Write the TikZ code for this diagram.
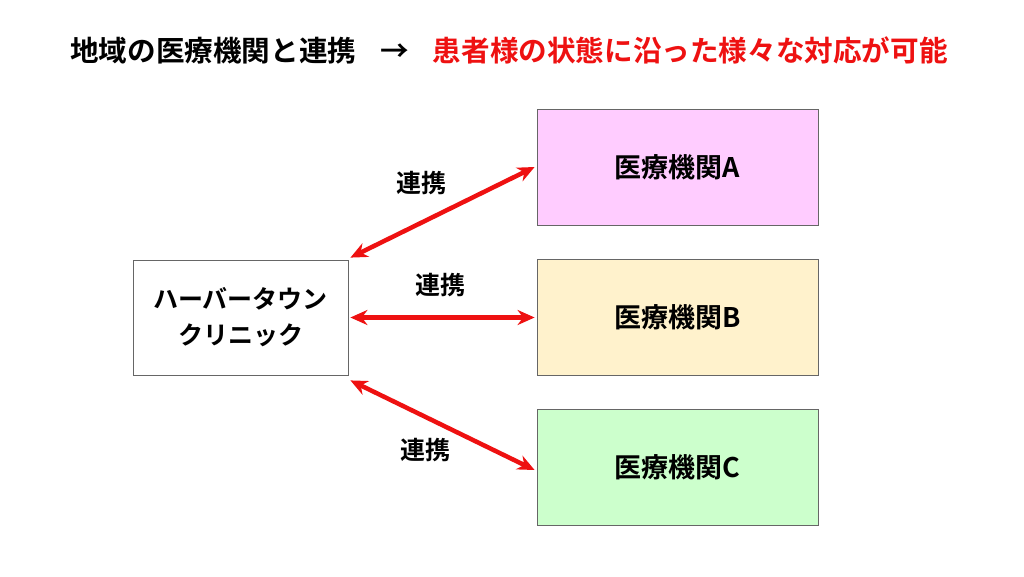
\documentclass[tikz,border=0pt]{standalone}
\usepackage{fontspec}
\setmainfont{Noto Sans CJK JP}[BoldFont={Noto Sans CJK JP Bold}]
\usetikzlibrary{arrows.meta}
\definecolor{linkred}{HTML}{EE1111}
\begin{document}
\begin{tikzpicture}[x=1pt, y=-1pt]

\tikzset{
  inst/.style={draw=black!60, line width=0.8pt, minimum width=281pt, minimum height=116pt, font=\fontsize{27}{32}\selectfont\bfseries},
  link/.style={draw=linkred, line width=4.5pt, {Stealth[length=17pt,width=15pt]}-{Stealth[length=17pt,width=15pt]}},
  lbl/.style={font=\fontsize{25}{30}\selectfont\bfseries}
}

\useasboundingbox[fill=white] (0,0) rectangle (1024,576);

% --- title ---
\node[anchor=west, inner sep=0pt, font=\fontsize{28.6}{32}\selectfont\bfseries] (ttl) at (70,50) {地域の医療機関と連携\hspace{24pt}→\hspace{24pt}\textcolor{linkred}{患者様の状態に沿った様々な対応が可能}};

% --- clinic ---
\node[draw=black!60, line width=0.8pt, minimum width=215pt, minimum height=115pt, align=center, font=\fontsize{25}{36}\selectfont\bfseries] (clinic) at (240.5,317.5) {ハーバータウン\\クリニック};

% --- partner institutions ---
\node[inst, fill={rgb,255:red,255;green,204;blue,255}] (instA) at (677.5,167) {医療機関A};
\node[inst, fill={rgb,255:red,255;green,242;blue,204}] (instB) at (677.5,317.5) {医療機関B};
\node[inst, fill={rgb,255:red,204;green,255;blue,204}] (instC) at (677.5,467) {医療機関C};

% --- links ---
\draw[link] (clinic.north east) ++(2,-2) -- ([xshift=-2pt]instA.west);
\draw[link] ([xshift=2pt]clinic.east) -- ([xshift=-2pt]instB.west);
\draw[link] (clinic.south east) ++(2,5) -- ([xshift=-2pt, yshift=-3pt]instC.west);

% --- labels ---
\node[lbl] (lA) at (421,183) {連携};
\node[lbl] (lB) at (440,285) {連携};
\node[lbl] (lC) at (425,450) {連携};

\end{tikzpicture}
\end{document}
